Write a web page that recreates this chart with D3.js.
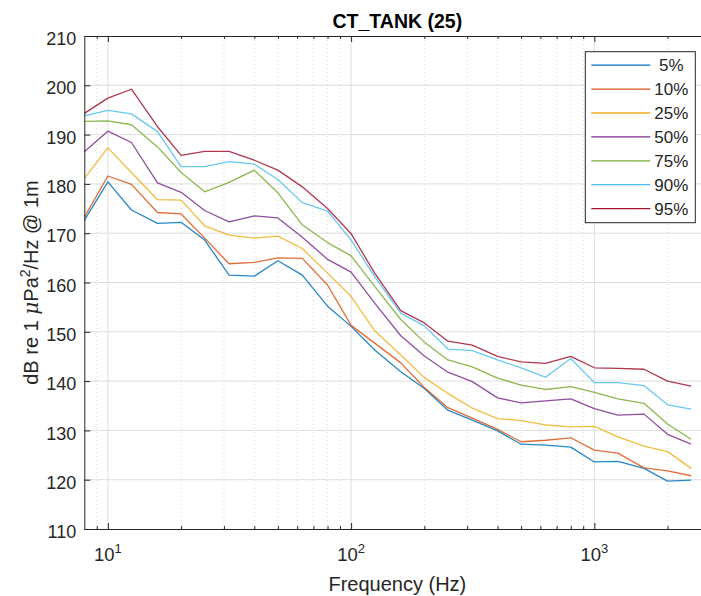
<!DOCTYPE html>
<html>
<head>
<meta charset="utf-8">
<script src="https://cdn.jsdelivr.net/npm/d3@7"></script>
<style>
  body { margin: 0; background: #fff; }
  svg { display: block; font-family: "Liberation Sans", Arial, Helvetica, sans-serif; }
</style>
</head>
<body>
<div id="vis"></div>
<script>
// third-octave centre frequencies (Hz)
let freqs = [8, 10, 12.5, 16, 20, 25, 31.5, 40, 50, 63, 80, 100, 125, 160, 200, 250,
             315, 400, 500, 630, 800, 1000, 1250, 1600, 2000, 2500];

let p5  = [172.6, 180.4, 174.7, 172.0, 172.2, 168.6, 161.5, 161.3, 164.4, 161.5, 155.2, 151.1, 146.3,
           141.9, 138.5, 134.1, 132.1, 129.9, 127.2, 127.0, 126.6, 123.6, 123.7, 122.3, 119.7, 119.9];
let p10 = [173.2, 181.6, 179.9, 174.2, 173.9, 169.0, 163.8, 164.1, 165.0, 164.9, 159.5, 151.3, 147.7,
           143.7, 138.7, 134.6, 132.5, 130.2, 127.7, 128.0, 128.5, 126.0, 125.4, 122.4, 121.8, 120.8];
let p25 = [181.1, 187.3, 182.3, 176.8, 176.7, 171.5, 169.6, 169.0, 169.4, 166.9, 161.9, 157.2, 150.2,
           145.3, 140.7, 137.5, 134.5, 132.4, 132.0, 131.1, 130.7, 130.8, 128.7, 126.8, 125.7, 122.3];
let p50 = [186.5, 190.7, 188.4, 180.2, 178.3, 174.6, 172.3, 173.5, 173.1, 169.2, 164.7, 162.1, 155.8,
           149.2, 145.1, 141.8, 139.9, 136.6, 135.6, 136.0, 136.4, 134.4, 133.1, 133.3, 129.2, 127.2];
let p75 = [192.7, 192.8, 192.0, 187.5, 182.3, 178.4, 180.3, 182.8, 178.2, 171.7, 168.1, 165.4, 159.2,
           152.5, 147.9, 144.3, 142.9, 140.6, 139.2, 138.3, 138.9, 137.7, 136.4, 135.5, 131.3, 128.2];
let p90 = [193.8, 194.9, 194.2, 190.6, 183.5, 183.5, 184.5, 184.0, 180.9, 176.2, 174.5, 168.6, 161.2,
           153.8, 151.2, 146.5, 146.2, 144.3, 142.7, 140.8, 144.6, 139.7, 139.7, 139.1, 135.2, 134.3];
let p95 = [194.3, 197.4, 199.2, 191.6, 185.8, 186.6, 186.6, 184.8, 182.8, 179.4, 175.0, 169.9, 161.9,
           154.3, 151.8, 148.1, 147.3, 145.0, 143.9, 143.6, 145.0, 142.7, 142.6, 142.4, 140.0, 139.0];

let seriesNames = ["5%", "10%", "25%", "50%", "75%", "90%", "95%"];
let seriesColors = ["#0072BD", "#D95319", "#EDB120", "#7E2F8E", "#77AC30", "#4DBEEE", "#A2142F"];

let yTicks = [110, 120, 130, 140, 150, 160, 170, 180, 190, 200, 210];
let xMajor = [10, 100, 1000];
let xMinor = [9, 20, 30, 40, 50, 60, 70, 80, 90, 200, 300, 400, 500, 600, 700, 800, 900, 2000, 3000];

let width = 701, height = 596;
// the axes box runs a little past the right edge of the picture
let margin = {top: 36, bottom: 67, left: 84.3, right: -9.4};
let axisColor = "#262626";

let svg = d3.select("#vis").append("svg")
  .attr("width", width)
  .attr("height", height);

let x = d3.scaleLog()
  .domain([8, 3000])
  .range([margin.left, width - margin.right]);

let y = d3.scaleLinear()
  .domain([110, 210])
  .range([height - margin.bottom, margin.top]);

let x0 = x.range()[0], x1 = x.range()[1];
let y0 = y.range()[0], y1 = y.range()[1];

// grid
let grid = svg.append("g").attr("id", "grid");
grid.selectAll(".hgrid")
  .data(yTicks.slice(1, -1))
  .join("line")
  .attr("x1", x0).attr("x2", x1)
  .attr("y1", d => y(d)).attr("y2", d => y(d))
  .attr("stroke", "#dedede").attr("stroke-width", 1);

grid.selectAll(".vminor")
  .data(xMinor)
  .join("line")
  .attr("x1", d => x(d)).attr("x2", d => x(d))
  .attr("y1", y1).attr("y2", y0)
  .attr("stroke", "#cfcfcf").attr("stroke-width", 0.8)
  .attr("stroke-dasharray", "1,3");

grid.selectAll(".vmajor")
  .data(xMajor)
  .join("line")
  .attr("x1", d => x(d)).attr("x2", d => x(d))
  .attr("y1", y1).attr("y2", y0)
  .attr("stroke", "#dedede").attr("stroke-width", 1);

// data lines
let allSeries = [p5, p10, p25, p50, p75, p90, p95];
let line = d3.line()
  .x((d, i) => x(freqs[i]))
  .y(d => y(d));

svg.append("g").attr("id", "lines")
  .selectAll("path")
  .data(allSeries)
  .join("path")
  .attr("d", d => line(d))
  .attr("fill", "none")
  .attr("stroke", (d, i) => seriesColors[i])
  .attr("stroke-width", 1.3)
  .attr("stroke-opacity", 0.85)
  .attr("stroke-linejoin", "round");

// axes (ticks point inward, MATLAB style)
let styleAxis = g => {
  g.select(".domain").attr("stroke", axisColor).attr("stroke-width", 1);
  g.selectAll(".tick line").attr("stroke", axisColor).attr("stroke-width", 1);
};

svg.append("g")
  .attr("transform", "translate(" + x0 + ",0)")
  .call(d3.axisLeft(y).tickValues(yTicks).tickSize(-6).tickSizeOuter(0).tickPadding(8))
  .call(styleAxis)
  .call(g => g.selectAll("text")
    .attr("font-size", 18)
    .attr("fill", axisColor)
    .attr("font-family", "Liberation Sans, Arial, sans-serif")
    .attr("dy", "0.48em"));

svg.append("g")
  .attr("transform", "translate(" + x1 + ",0)")
  .call(d3.axisRight(y).tickValues(yTicks).tickSize(-6).tickSizeOuter(0).tickFormat(""))
  .call(styleAxis);

let xAxisBottom = svg.append("g")
  .attr("transform", "translate(0," + y0 + ")");
xAxisBottom.call(d3.axisBottom(x).tickValues(xMajor).tickSize(-6).tickSizeOuter(0).tickFormat(""))
  .call(styleAxis);
xAxisBottom.append("g")
  .call(d3.axisBottom(x).tickValues(xMinor).tickSize(-3).tickSizeOuter(0).tickFormat(""))
  .call(styleAxis)
  .call(g => g.select(".domain").remove());

let xAxisTop = svg.append("g")
  .attr("transform", "translate(0," + y1 + ")");
xAxisTop.call(d3.axisTop(x).tickValues(xMajor).tickSize(-6).tickSizeOuter(0).tickFormat(""))
  .call(styleAxis);
xAxisTop.append("g")
  .call(d3.axisTop(x).tickValues(xMinor).tickSize(-3).tickSizeOuter(0).tickFormat(""))
  .call(styleAxis)
  .call(g => g.select(".domain").remove());

// 10^n labels
let xLabels = svg.append("g").attr("fill", axisColor);
xMajor.forEach(v => {
  let t = xLabels.append("text")
    .attr("x", x(v))
    .attr("y", 561)
    .attr("text-anchor", "middle")
    .attr("font-size", 18.5);
  t.append("tspan").text("10");
  t.append("tspan").attr("dy", -8).attr("font-size", 13).text(Math.round(Math.log10(v)));
});

// title and axis labels
svg.append("text")
  .attr("x", (x0 + x1) / 2)
  .attr("y", 28)
  .attr("text-anchor", "middle")
  .attr("font-size", 19.5)
  .attr("font-weight", "bold")
  .attr("fill", "#000")
  .text("CT_TANK (25)");

svg.append("text")
  .attr("x", (x0 + x1) / 2)
  .attr("y", 591)
  .attr("text-anchor", "middle")
  .attr("font-size", 20)
  .attr("fill", axisColor)
  .text("Frequency (Hz)");

let yLab = svg.append("text")
  .attr("transform", "translate(38," + (y0 + y1) / 2 + ") rotate(-90)")
  .attr("text-anchor", "middle")
  .attr("font-size", 20)
  .attr("fill", axisColor);
yLab.append("tspan").text("dB re 1 ");
yLab.append("tspan").attr("font-style", "italic").attr("font-family", "DejaVu Serif, serif").text("\u03BC");
yLab.append("tspan").text("Pa");
yLab.append("tspan").attr("dy", -8).attr("font-size", 14).text("2");
yLab.append("tspan").attr("dy", 8).text("/Hz @ 1m");

// legend
let legend = svg.append("g").attr("id", "legend");
let legX = 585.3, legY = 51.7, legW = 110, legH = 171, rowH = 23.9;
legend.append("rect")
  .attr("x", legX).attr("y", legY)
  .attr("width", legW).attr("height", legH)
  .attr("fill", "#fff")
  .attr("stroke", axisColor)
  .attr("stroke-width", 1);

let rows = legend.selectAll(".row")
  .data(seriesNames)
  .join("g")
  .attr("transform", (d, i) => "translate(0," + (legY + 13.5 + i * rowH) + ")");
rows.append("line")
  .attr("x1", legX + 6).attr("x2", legX + 65)
  .attr("stroke", (d, i) => seriesColors[i])
  .attr("stroke-width", 1.3);
rows.append("text")
  .attr("x", legX + 86)
  .attr("dy", "0.36em")
  .attr("text-anchor", "middle")
  .attr("font-size", 17)
  .attr("fill", axisColor)
  .text(d => d);
</script>
</body>
</html>
